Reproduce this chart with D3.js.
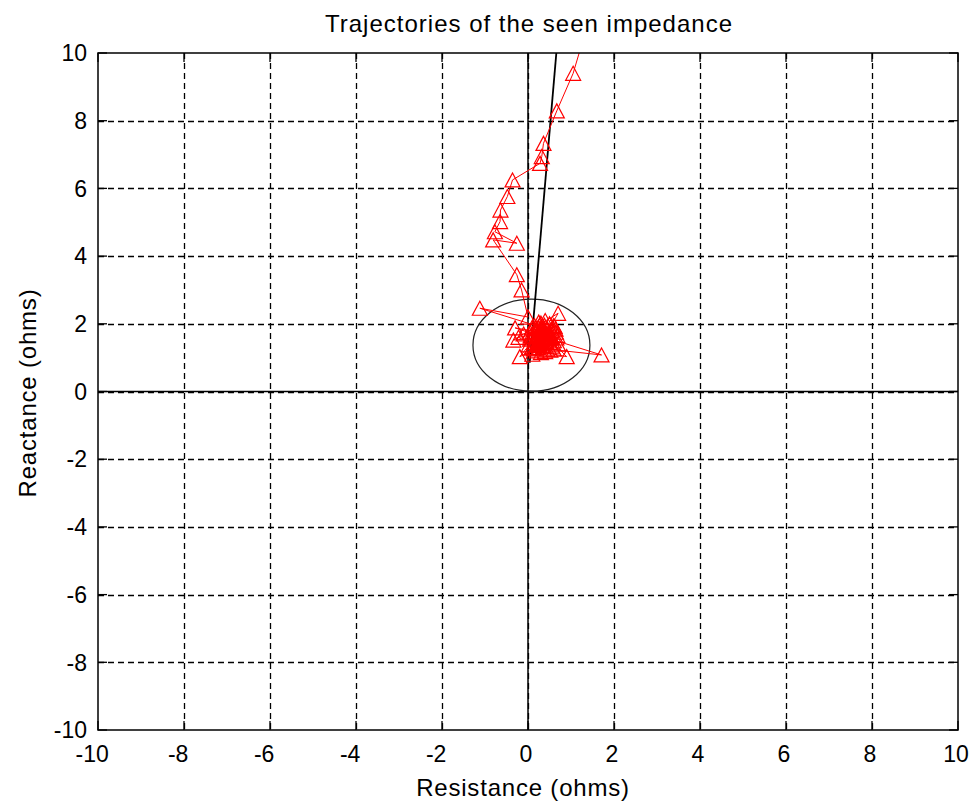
<!DOCTYPE html>
<html>
<head>
<meta charset="utf-8">
<script src="https://cdn.jsdelivr.net/npm/d3@7"></script>
<style>
  body { margin: 0; background: #fff; }
  svg { display: block; font-family: Arial, "Liberation Sans", sans-serif; }
</style>
</head>
<body>
<div id="chart"></div>
<script>
// axis settings
var xDomain = [-10, 10];
var yDomain = [-10, 10];
var tickValues = [-10, -8, -6, -4, -2, 0, 2, 4, 6, 8, 10];

// seen impedance trajectory (resistance, reactance)
var trajR = [1.40, 1.05, 0.67, 0.36, 0.32, 0.28, -0.36, -0.48, -0.64, -0.65, -0.77, -0.26, -0.81, -0.26, -0.15,
  0.00, -1.12, 0.30, 0.60, -0.30, 0.50, 0.10, 1.71, 0.40, -0.34, 0.70, 0.20, 0.90, 0.30, -0.19,
  0.50, 0.10, 0.65, 0.05, 0.45, 0.25, 0.60, 0.15, 0.40, 0.35, -0.10, 0.55, 0.20, 0.70, 0.30,
  0.05, 0.45, 0.25, 0.60, 0.15, 0.50, 0.35, 0.10, 0.55, 0.30, 0.20, 0.45, 0.25,
  0.38, 0.12, 0.58, 0.22, 0.48, 0.08, 0.66, 0.28, 0.42, 0.18, 0.52, 0.32, 0.02, 0.62, 0.26,
  0.44, 0.16, 0.56, 0.36, -0.22, 0.40, 0.24, 0.68, 0.14, 0.50, 0.30, 0.06, 0.58, 0.34, 0.20,
  0.46, 0.28, 0.64, 0.10, 0.38, 0.22, 0.54, 0.32];
var trajX = [10.9, 9.40, 8.29, 7.33, 6.94, 6.74, 6.25, 5.76, 5.36, 5.02, 4.72, 4.38, 4.48, 3.45, 3.00,
  2.20, 2.46, 1.90, 1.50, 1.88, 1.70, 1.30, 1.08, 1.60, 1.52, 2.31, 1.20, 1.03, 1.80, 1.03,
  1.45, 1.90, 1.75, 1.55, 1.25, 2.05, 1.95, 1.45, 2.10, 1.35, 1.70, 1.60, 1.65, 1.40, 1.15,
  1.75, 1.85, 1.50, 1.25, 1.95, 2.00, 1.60, 1.10, 1.80, 1.40, 1.85, 1.55, 1.70,
  1.32, 1.62, 1.88, 1.42, 1.72, 1.28, 1.58, 1.98, 1.48, 1.78, 1.22, 1.68, 1.38, 1.92, 1.36,
  1.82, 1.52, 1.34, 1.74, 1.60, 1.18, 1.90, 1.66, 1.26, 1.56, 2.02, 1.64, 1.44, 1.86, 1.30,
  1.70, 1.50, 1.84, 1.58, 1.96, 1.40, 1.62, 1.54];

// relay characteristic: mho circle and line angle
var circleCenter = [0.08, 1.37];
var circleRadius = 1.36;
var lineR = [0.04, 0.72];
var lineX = [0.85, 10.9];

var width = 974, height = 806;
var margin = {top: 53, right: 16, bottom: 76, left: 98};
var plotW = width - margin.left - margin.right,
    plotH = height - margin.top - margin.bottom;

var svg = d3.select('#chart').append('svg')
  .attr('width', width).attr('height', height);

var x = d3.scaleLinear().domain(xDomain).range([0, plotW]);
var y = d3.scaleLinear().domain(yDomain).range([plotH, 0]);

svg.append('defs').append('clipPath').attr('id', 'plotClip')
  .append('rect').attr('width', plotW).attr('height', plotH);

var g = svg.append('g').attr('transform', 'translate(' + margin.left + ',' + margin.top + ')');

// dashed grid
var inside = tickValues.filter(function(d){ return d > -10 && d < 10; });
g.append('g').selectAll('line.vgrid')
  .data(inside)
  .enter().append('line').attr('class', 'vgrid')
  .attr('x1', function(d){ return Math.round(x(d)) + 0.5; })
  .attr('x2', function(d){ return Math.round(x(d)) + 0.5; })
  .attr('y1', 0).attr('y2', plotH)
  .attr('stroke', '#000').attr('stroke-width', 1.3).attr('stroke-dasharray', '6,4');
g.append('g').selectAll('line.hgrid')
  .data(inside)
  .enter().append('line').attr('class', 'hgrid')
  .attr('y1', function(d){ return Math.round(y(d)) + 0.5; })
  .attr('y2', function(d){ return Math.round(y(d)) + 0.5; })
  .attr('x1', 0).attr('x2', plotW)
  .attr('stroke', '#000').attr('stroke-width', 1.3).attr('stroke-dasharray', '6,4');

// inner ticks on all sides
var tickLen = 9;
var ticks = g.append('g').attr('stroke', '#000').attr('stroke-width', 1.3);
tickValues.forEach(function(t){
  ticks.append('line').attr('x1', x(t)).attr('x2', x(t)).attr('y1', 0).attr('y2', tickLen);
  ticks.append('line').attr('x1', x(t)).attr('x2', x(t)).attr('y1', plotH).attr('y2', plotH - tickLen);
  ticks.append('line').attr('y1', y(t)).attr('y2', y(t)).attr('x1', 0).attr('x2', tickLen);
  ticks.append('line').attr('y1', y(t)).attr('y2', y(t)).attr('x1', plotW).attr('x2', plotW - tickLen);
});

// zero axes
g.append('line').attr('x1', x(0)).attr('x2', x(0)).attr('y1', 0).attr('y2', plotH)
  .attr('stroke', '#000').attr('stroke-width', 1.5);
g.append('line').attr('y1', y(0)).attr('y2', y(0)).attr('x1', 0).attr('x2', plotW)
  .attr('stroke', '#000').attr('stroke-width', 1.5);

var inner = g.append('g').attr('clip-path', 'url(#plotClip)');

// mho circle
inner.append('ellipse')
  .attr('cx', x(circleCenter[0])).attr('cy', y(circleCenter[1]))
  .attr('rx', x(circleRadius) - x(0)).attr('ry', y(0) - y(circleRadius))
  .attr('fill', 'none').attr('stroke', '#222').attr('stroke-width', 1.2);

// line angle
inner.append('line')
  .attr('x1', x(lineR[0])).attr('y1', y(lineX[0]))
  .attr('x2', x(lineR[1])).attr('y2', y(lineX[1]))
  .attr('stroke', '#000').attr('stroke-width', 1.8);

// trajectory
var pts = trajR.map(function(r, i){ return [r, trajX[i]]; });
inner.append('path')
  .datum(pts)
  .attr('d', d3.line().x(function(d){ return x(d[0]); }).y(function(d){ return y(d[1]); }))
  .attr('fill', 'none').attr('stroke', '#ff0000').attr('stroke-width', 1);

inner.append('g').selectAll('path.tri')
  .data(pts.filter(function(d){ return d[1] <= 10; }))
  .enter().append('path').attr('class', 'tri')
  .attr('transform', function(d){ return 'translate(' + x(d[0]) + ',' + y(d[1]) + ')'; })
  .attr('d', 'M0,-7L7.5,7L-7.5,7Z')
  .attr('fill', 'none').attr('stroke', '#ff0000').attr('stroke-width', 1.2);

// box
g.append('rect').attr('width', plotW).attr('height', plotH)
  .attr('fill', 'none').attr('stroke', '#000').attr('stroke-width', 1.5);

// tick labels
var digitW = 12.8;
g.append('g').selectAll('text.xt')
  .data(tickValues).enter().append('text').attr('class', 'xt')
  .attr('x', function(d){ return x(d) - 2 + String(Math.abs(d)).length * digitW / 2; })
  .attr('y', plotH + 32)
  .attr('text-anchor', 'end').attr('font-size', 23).attr('fill', '#000')
  .text(function(d){ return d < 0 ? '-' + Math.abs(d) : String(d); });
g.append('g').selectAll('text.yt')
  .data(tickValues).enter().append('text').attr('class', 'yt')
  .attr('x', -11).attr('y', function(d){ return y(d); })
  .attr('dy', '0.36em')
  .attr('text-anchor', 'end').attr('font-size', 23).attr('fill', '#000')
  .text(function(d){ return d < 0 ? '-' + Math.abs(d) : String(d); });

// titles
svg.append('text').attr('x', 529).attr('y', 32)
  .attr('text-anchor', 'middle').attr('font-size', 24).attr('letter-spacing', 1)
  .text('Trajectories of the seen impedance');
svg.append('text').attr('x', 523).attr('y', 796)
  .attr('text-anchor', 'middle').attr('font-size', 24).attr('letter-spacing', 0.8)
  .text('Resistance (ohms)');
svg.append('text').attr('transform', 'translate(36,393) rotate(-90)')
  .attr('text-anchor', 'middle').attr('font-size', 24).attr('letter-spacing', 0.8)
  .text('Reactance (ohms)');
</script>
</body>
</html>
